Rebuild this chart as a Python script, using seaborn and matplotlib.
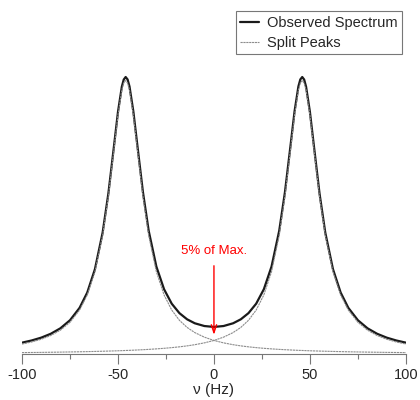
import numpy as np
import pandas as pd
import matplotlib
matplotlib.use("Agg")
import matplotlib.pyplot as plt
import seaborn as sns

# frequency grid (Hz), symmetric about 0
freq = [-100, -95, -90, -85, -80, -75, -70, -66, -62, -58, -55, -52, -50, -48, -47,
        -46, -45, -44, -42, -40, -37, -34, -30, -26, -22, -18, -14, -10, -5, 0,
        5, 10, 14, 18, 22, 26, 30, 34, 37, 40, 42, 44, 45, 46, 47,
        48, 50, 52, 55, 58, 62, 66, 70, 75, 80, 85, 90, 95, 100]

# left split peak (fraction of max)
left_peak = [0.0364, 0.0439, 0.0539, 0.0676, 0.0871, 0.1159, 0.1607, 0.2161, 0.3010, 0.4336,
             0.5765, 0.7538, 0.8733, 0.9650, 0.9910, 1.0000, 0.9910, 0.9650, 0.8733, 0.7538,
             0.5765, 0.4336, 0.3010, 0.2161, 0.1607, 0.1233, 0.0972, 0.0784, 0.0616, 0.0495,
             0.0407, 0.0340, 0.0297, 0.0262, 0.0233, 0.0208, 0.0187, 0.0169, 0.0157, 0.0147,
             0.0140, 0.0134, 0.0131, 0.0129, 0.0126, 0.0123, 0.0118, 0.0113, 0.0107, 0.0101,
             0.0094, 0.0087, 0.0081, 0.0075, 0.0069, 0.0064, 0.0059, 0.0055, 0.0051]
# right split peak is the mirror image
right_peak = left_peak[::-1]
observed = [a + b for a, b in zip(left_peak, right_peak)]

xticks = [-100, -50, 0, 50, 100]
minor_xticks = [-75, -25, 25, 75]

sns.set_style("white")
plt.rcParams['font.family'] = ['Liberation Sans', 'DejaVu Sans']

df = pd.DataFrame({'freq': freq, 'left': left_peak, 'right': right_peak, 'observed': observed})

fig = plt.figure(figsize=(4.2, 4.0), dpi=100)
ax = fig.add_axes([0.0524, 0.115, 0.914, 0.86])

sns.lineplot(data=df, x='freq', y='observed', ax=ax, color='#1a1a1a', linewidth=1.6,
             label='Observed Spectrum')
sns.lineplot(data=df, x='freq', y='left', ax=ax, color='#8c8c8c', linewidth=0.8,
             linestyle=(0, (2, 0.6)), label='Split Peaks')
sns.lineplot(data=df, x='freq', y='right', ax=ax, color='#8c8c8c', linewidth=0.8,
             linestyle=(0, (2, 0.6)))

ax.annotate('5% of Max.', xy=(0, 0.07), xytext=(0, 0.355), color='red', fontsize=9.5,
            ha='center', va='bottom',
            arrowprops=dict(arrowstyle='->,head_length=0.6,head_width=0.2', color='red',
                            lw=1.0, shrinkA=4, shrinkB=0))

ax.set_xlim(-100, 100)
ax.set_ylim(0, 1.258)
ax.set_xticks(xticks)
ax.set_xticks(minor_xticks, minor=True)
ax.set_xticklabels([str(t) for t in xticks])
ax.set_yticks([])
ax.set_xlabel('ν (Hz)', fontsize=11, labelpad=1)
ax.set_ylabel('')

for s in ['top', 'left', 'right']:
    ax.spines[s].set_visible(False)
ax.spines['bottom'].set_color('#777777')
ax.spines['bottom'].set_linewidth(0.8)
ax.tick_params(axis='x', which='major', direction='out', length=7, width=0.8,
               color='#777777', labelsize=10.5, pad=3, bottom=True)
ax.tick_params(axis='x', which='minor', direction='out', length=3.6, width=0.8,
               color='#777777', bottom=True)

leg = ax.legend(loc='upper right', bbox_to_anchor=(0.993, 1.0), fontsize=10.5, frameon=True,
                fancybox=False, handlelength=1.3, handletextpad=0.5, borderpad=0.3,
                labelspacing=0.4, borderaxespad=0.1)
leg.get_frame().set_edgecolor('#555555')
leg.get_frame().set_linewidth(0.8)

fig.savefig('out.png', dpi=100, facecolor='white')
